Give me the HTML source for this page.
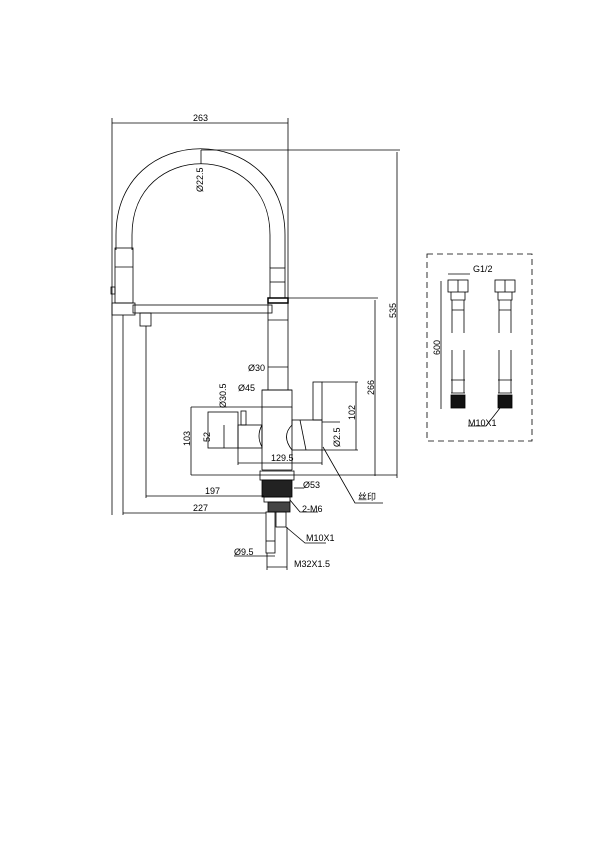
<!DOCTYPE html>
<html><head><style>body{margin:0;background:#fff}svg{display:block}text{font-family:"Liberation Sans","Noto Sans CJK SC",sans-serif;font-size:9px;fill:#000}</style></head>
<body>
<svg width="600" height="849" viewBox="0 0 600 849" fill="none" stroke="#000" stroke-width="0.8">
<!-- 263 dim -->
<line x1="112" y1="123" x2="288" y2="123"/>
<line x1="112" y1="118" x2="112" y2="515"/>
<line x1="288" y1="118" x2="288" y2="300"/>
<text x="193" y="121" stroke="none">263</text>
<!-- arch -->
<path d="M116 250 L116 235 C116 120 285 120 285 235 L285 268"/>
<path d="M132 250 L132 235 C132 140 270 140 270 235 L270 268"/>
<line x1="201" y1="150" x2="201" y2="164"/>
<text x="0" y="0" stroke="none" transform="translate(203,192) rotate(-90)">Ø22.5</text>
<!-- 535 -->
<line x1="201" y1="150" x2="400" y2="150"/>
<line x1="397" y1="152" x2="397" y2="478"/>
<text x="0" y="0" stroke="none" transform="translate(396,318) rotate(-90)">535</text>
<!-- left hose end -->
<rect x="115" y="248" width="18" height="55"/>
<line x1="115" y1="267" x2="133" y2="267"/>
<rect x="111" y="287" width="4" height="7"/>
<rect x="112" y="303" width="23" height="12"/>
<rect x="133" y="305" width="139" height="8"/>
<rect x="140" y="313" width="11" height="13"/>
<line x1="123" y1="315" x2="123" y2="515"/>
<line x1="146" y1="326" x2="146" y2="498"/>
<!-- right hose -->
<rect x="270" y="268" width="15" height="30"/>
<line x1="270" y1="282" x2="285" y2="282"/>
<rect x="268" y="298" width="20" height="5" stroke-width="1.5"/>
<line x1="268" y1="303" x2="268" y2="390"/>
<line x1="288" y1="303" x2="288" y2="390"/>
<line x1="268" y1="320" x2="288" y2="320"/>
<!-- 266 -->
<line x1="288" y1="298" x2="378" y2="298"/>
<line x1="375" y1="300" x2="375" y2="476"/>
<text x="0" y="0" stroke="none" transform="translate(374,395) rotate(-90)">266</text>
<!-- body -->
<text x="248" y="371" stroke="none">Ø30</text>
<line x1="268" y1="367" x2="288" y2="367"/>
<text x="238" y="391" stroke="none">Ø45</text>
<line x1="262" y1="390" x2="292" y2="390"/>
<rect x="262" y="390" width="30" height="17"/>
<path d="M262 407 L262 470 M292 407 L292 425 M292 450 L292 470 M262 470 L292 470"/>
<path d="M262 425 Q256 436 262 447"/>
<path d="M292 425 Q281 436 292 450"/>
<rect x="238" y="425" width="24" height="23"/>
<rect x="208" y="412" width="30" height="36"/>
<rect x="241" y="411" width="5" height="14"/>
<rect x="292" y="420" width="30" height="30"/>
<rect x="313" y="382" width="9" height="38"/>
<path d="M300 420 L306 450"/>
<text x="0" y="0" stroke="none" transform="translate(226,408) rotate(-90)">Ø30.5</text>
<!-- dims -->
<line x1="322" y1="382" x2="358" y2="382"/><line x1="322" y1="450" x2="358" y2="450"/>
<line x1="356" y1="382" x2="356" y2="450"/>
<text x="0" y="0" stroke="none" transform="translate(355,420) rotate(-90)">102</text>
<line x1="322" y1="422" x2="340" y2="422"/>
<text x="0" y="0" stroke="none" transform="translate(340,447) rotate(-90)">Ø2.5</text>
<line x1="191" y1="407" x2="262" y2="407"/>
<line x1="191" y1="407" x2="191" y2="475"/>
<text x="0" y="0" stroke="none" transform="translate(190,446) rotate(-90)">103</text>
<line x1="224" y1="425" x2="224" y2="448"/>
<text x="0" y="0" stroke="none" transform="translate(210,442) rotate(-90)">52</text>
<line x1="238" y1="463" x2="322" y2="463"/>
<line x1="238" y1="448" x2="238" y2="465"/><line x1="322" y1="450" x2="322" y2="465"/>
<text x="271" y="461" stroke="none">129.5</text>
<line x1="191" y1="475" x2="397" y2="475"/>
<!-- base -->
<rect x="260" y="471" width="34" height="9"/>
<rect x="262" y="480" width="30" height="17" fill="#222"/>
<rect x="264" y="497" width="26" height="5"/>
<rect x="268" y="502" width="22" height="10" fill="#444"/>
<rect x="266" y="512" width="9" height="41"/>
<rect x="276" y="512" width="10" height="15"/>
<line x1="266" y1="541" x2="275" y2="541"/>
<line x1="146" y1="496" x2="264" y2="496"/><text x="205" y="494" stroke="none">197</text>
<line x1="123" y1="513" x2="266" y2="513"/><text x="193" y="511" stroke="none">227</text>
<line x1="294" y1="488" x2="304" y2="488"/><text x="303" y="488" stroke="none">Ø53</text>
<path d="M290 500 L300 512 L318 512"/><text x="302" y="512" stroke="none" font-size="7">2-M6</text>
<path d="M286 527 L305 543 L326 543"/><text x="306" y="541" stroke="none" font-size="7">M10X1</text>
<text x="234" y="555" stroke="none">Ø9.5</text>
<line x1="234" y1="556" x2="275" y2="556"/>
<line x1="267" y1="553" x2="267" y2="570"/><line x1="287" y1="527" x2="287" y2="570"/>
<line x1="267" y1="567" x2="287" y2="567"/>
<text x="294" y="567" stroke="none">M32X1.5</text>
<path d="M323 447 L355 503 L383 503"/><text x="358" y="500" stroke="none">丝印</text>
<!-- hose box -->
<rect x="427" y="254" width="105" height="187" stroke-dasharray="6 4"/>
<line x1="448" y1="274" x2="470" y2="274"/><text x="473" y="272" stroke="none">G1/2</text>
<g id="h">
<rect x="448" y="280" width="20" height="12"/>
<line x1="458" y1="280" x2="458" y2="292"/>
<path d="M451 292 L451 300 L465 300 L465 292 M452 300 L452 333 M464 300 L464 333 M452 310 L464 310"/>
<path d="M452 350 L452 393 M464 350 L464 393 M451 380 L465 380 M451 393 L465 393"/>
<rect x="451" y="395" width="14" height="13" fill="#111"/>
</g>
<use href="#h" x="47"/>
<line x1="441" y1="281" x2="441" y2="409"/>
<text x="0" y="0" stroke="none" transform="translate(440,355) rotate(-90)">600</text>
<path d="M500 408 L486 426 L468 426"/>
<text x="468" y="426" stroke="none" font-size="7">M10X1</text>
</svg>
</body></html>
